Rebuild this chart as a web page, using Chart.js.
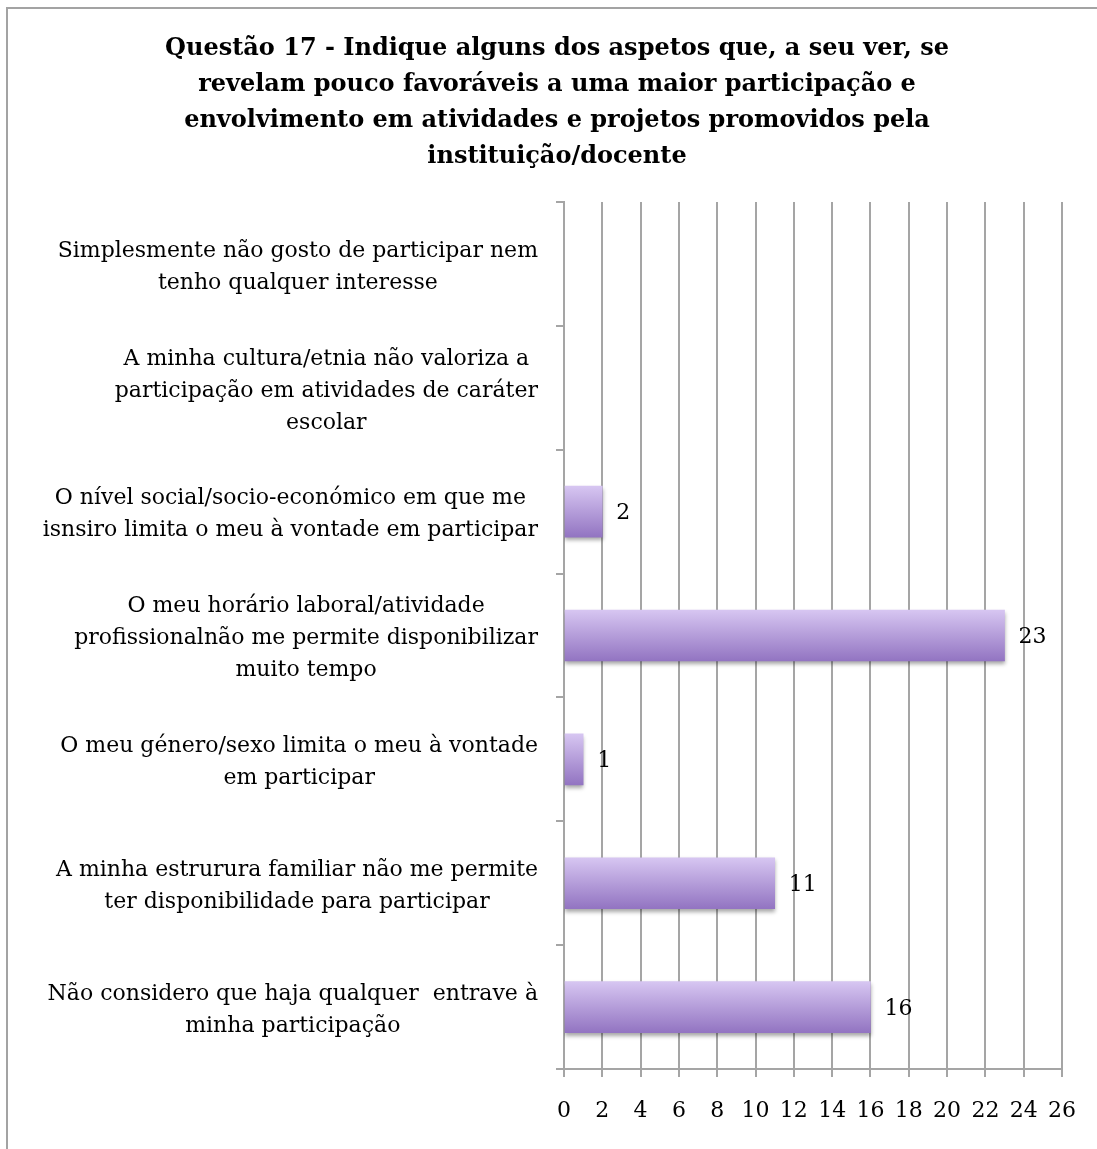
<!DOCTYPE html>
<html>
<head>
<meta charset="utf-8">
<script src="https://cdn.jsdelivr.net/npm/chart.js"></script>
<style>
  html, body { margin: 0; padding: 0; background: #fff; overflow: hidden; }
  #frame { position: absolute; left: 6px; top: 7px; width: 1300px; height: 1300px;
           border-left: 2px solid #a3a3a3; border-top: 2px solid #a3a3a3; }
  #wrap { position: absolute; left: 0; top: 0; width: 1097px; height: 1149px; }
</style>
</head>
<body>
<div id="frame"></div>
<div id="wrap"><canvas id="chart"></canvas></div>
<script>
// categories, top to bottom, already broken into lines
const categories = [
  ['Simplesmente não gosto de participar nem', 'tenho qualquer interesse'],
  ['A minha cultura/etnia não valoriza a', 'participação em atividades de caráter', 'escolar'],
  ['O nível social/socio-económico em que me', 'isnsiro limita o meu à vontade em participar'],
  ['O meu horário laboral/atividade', 'profissionalnão me permite disponibilizar', 'muito tempo'],
  ['O meu género/sexo limita o meu à vontade', 'em participar'],
  ['A minha estrurura familiar não me permite', 'ter disponibilidade para participar'],
  ['Não considero que haja qualquer  entrave à', 'minha participação']
];
const counts = [0, 0, 2, 23, 1, 11, 16];
const xMin = 0, xMax = 26, xStep = 2;

const titleLines = [
  'Questão 17 - Indique alguns dos aspetos que, a seu ver, se',
  'revelam pouco favoráveis a uma maior participação e',
  'envolvimento em atividades e projetos promovidos pela',
  'instituição/docente'
];

const FONT = '"DejaVu Serif", "Liberation Serif", serif';
const LABEL_SIZE = 22;
const LINE_H = 32;
const GRID = '#a5a5a5';

// soft shadow under the bars, then value labels at the bar ends
const barExtras = {
  id: 'barExtras',
  beforeDatasetsDraw(chart) {
    const ctx = chart.ctx;
    ctx.save();
    ctx.shadowColor = 'rgba(0,0,0,0.35)';
    ctx.shadowBlur = 4;
    ctx.shadowOffsetY = 3;
  },
  afterDatasetsDraw(chart) {
    const ctx = chart.ctx;
    ctx.restore();
    ctx.save();
    ctx.font = LABEL_SIZE + 'px ' + FONT;
    ctx.fillStyle = '#000';
    ctx.textAlign = 'left';
    ctx.textBaseline = 'middle';
    chart.getDatasetMeta(0).data.forEach((bar, i) => {
      if (!counts[i]) return;
      ctx.fillText(String(counts[i]), bar.x + 14, bar.y + 2);
    });
    ctx.restore();
  }
};

// category labels: each block right-aligned to the axis, lines centred inside it
const catLabels = {
  id: 'catLabels',
  afterDraw(chart) {
    const ctx = chart.ctx;
    const y = chart.scales.y;
    const rightEdge = y.right - 8 - 18;
    ctx.save();
    ctx.font = LABEL_SIZE + 'px ' + FONT;
    ctx.fillStyle = '#000';
    ctx.textAlign = 'center';
    ctx.textBaseline = 'middle';
    categories.forEach((lines, i) => {
      const widest = Math.max(...lines.map(l => ctx.measureText(l).width));
      const cx = rightEdge - widest / 2;
      const cy = y.getPixelForTick(i) + 3;
      const top = cy - (lines.length - 1) * LINE_H / 2;
      lines.forEach((l, k) => ctx.fillText(l, cx, top + k * LINE_H));
    });
    ctx.restore();
  }
};

function barFill(context) {
  const chart = context.chart;
  const y = chart.scales.y;
  if (!counts[context.dataIndex]) return 'rgba(0,0,0,0)';
  if (!chart.chartArea || !y) return '#b39ad9';
  const cy = y.getPixelForValue(context.dataIndex);
  const g = chart.ctx.createLinearGradient(0, cy - 25, 0, cy + 25);
  g.addColorStop(0, '#d6c5f1');
  g.addColorStop(1, '#9375c2');
  return g;
}

new Chart(document.getElementById('chart'), {
  type: 'bar',
  data: {
    labels: categories,
    datasets: [{
      data: counts,
      backgroundColor: barFill,
      borderWidth: 0,
      barThickness: 51
    }]
  },
  options: {
    indexAxis: 'y',
    responsive: true,
    maintainAspectRatio: false,
    animation: false,
    layout: { padding: { left: 50, right: 33, top: 0, bottom: 0 } },
    plugins: {
      legend: { display: false },
      tooltip: { enabled: false },
      title: {
        display: true,
        text: titleLines,
        color: '#000',
        font: { family: FONT, size: 24, weight: 'bold', lineHeight: '36px' },
        padding: { top: 31, bottom: 27 }
      }
    },
    scales: {
      y: {
        ticks: { display: false },
        grid: { drawOnChartArea: false, drawTicks: true, tickLength: 8, color: GRID, lineWidth: 2 },
        border: { color: GRID, width: 2 },
        afterFit(scale) { scale.width = 514; }
      },
      x: {
        min: xMin,
        max: xMax,
        ticks: { stepSize: xStep, color: '#000', padding: 21, font: { family: FONT, size: LABEL_SIZE } },
        grid: { color: GRID, lineWidth: 2, tickLength: 8 },
        border: { color: GRID, width: 2 },
        afterFit(scale) { scale.height = 80; }
      }
    }
  },
  plugins: [barExtras, catLabels]
});
</script>
</body>
</html>
